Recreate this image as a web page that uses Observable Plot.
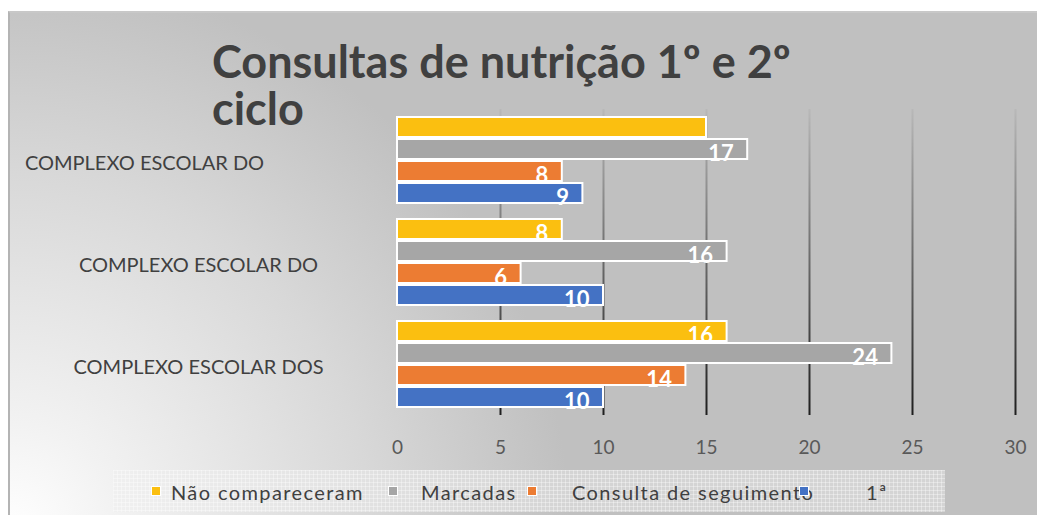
<!DOCTYPE html>
<html><head><meta charset="utf-8">
<script src="https://cdn.jsdelivr.net/npm/d3@7"></script>
<script src="https://cdn.jsdelivr.net/npm/@observablehq/plot@0.6"></script>
<style>
body{margin:0;background:#fff;}
#wrap{position:relative;width:1037px;height:515px;overflow:hidden;font-family:Lato,sans-serif;}
#bg{position:absolute;left:8px;top:11px;width:1040px;height:520px;border-left:2px solid #b4b4b4;border-top:2px solid #c8c8c8;
  background:radial-gradient(circle at 0% 100%, #ffffff 0px, #f2f2f2 110px, #d8d8d8 360px, #c0c0c0 560px);}
.tl{position:absolute;left:212px;font-weight:700;font-size:45px;line-height:46px;height:46px;color:#404040;white-space:nowrap;}
.layer{position:absolute;left:0;top:0;}
#legend{position:absolute;left:113px;top:470px;width:832px;height:42px;
  background-color:rgba(238,238,238,0.45);
  background-image:linear-gradient(rgba(255,255,255,0.35) 1px, transparent 1px),linear-gradient(90deg, rgba(255,255,255,0.35) 1px, transparent 1px);
  background-size:4px 4px;}
.sw{position:absolute;top:16px;width:8px;height:8px;border:1px solid #fff;}
.lt{position:absolute;top:10px;font-size:20px;line-height:24px;color:#404040;white-space:nowrap;letter-spacing:1.4px;}
</style></head>
<body>
<div id="wrap">
  <div id="bg"></div>
  <div class="tl" style="top:38px">Consultas de nutrição 1º e 2º</div>
  <div class="tl" style="top:85px">ciclo</div>
  <div id="grid" class="layer"></div>
  <div id="bars" class="layer"></div>
  <div id="legend"></div>
</div>
<script>
// ---- data ----
const categories = ["COMPLEXO ESCOLAR DO", "COMPLEXO ESCOLAR DO", "COMPLEXO ESCOLAR DOS"];
const series = ["Não compareceram", "Marcadas", "Consulta de seguimento", "1ª"];
const naoCompareceram = [15, 8, 16];
const marcadas = [17, 16, 24];
const consultaSeguimento = [8, 6, 14];
const primeira = [9, 10, 10];
const naoCompareceramLabels = ["", "8", "16"];
const marcadasLabels = ["17", "16", "24"];
const consultaSeguimentoLabels = ["8", "6", "14"];
const primeiraLabels = ["9", "10", "10"];
const xTicks = [0, 5, 10, 15, 20, 25, 30];
const colors = ["#FBBF10", "#A6A6A6", "#EC7C33", "#4472C4"];

// ---- build table ----
const seriesValues = [naoCompareceram, marcadas, consultaSeguimento, primeira];
const seriesLabels = [naoCompareceramLabels, marcadasLabels, consultaSeguimentoLabels, primeiraLabels];
const groupIdx = categories.map((c, i) => i);
const rows = [];
series.forEach((s, si) => groupIdx.forEach(gi => rows.push({group: gi, series: s, value: seriesValues[si][gi], label: seriesLabels[si][gi]})));

const W = 1037, H = 465, mL = 397, mR = 22, mT = 109, mB = 50;
const common = {width: W, height: H, marginLeft: mL, marginRight: mR, marginTop: mT, marginBottom: mB};

// grid + axis layer
const gridSvg = Plot.plot({
  ...common,
  style: {background: "transparent", fontFamily: "Lato", fontSize: "19px", color: "#595959"},
  x: {domain: [0, 30], ticks: xTicks, tickSize: 0, tickPadding: 25, label: null},
  y: {axis: null},
  marks: [
    Plot.ruleX(xTicks.filter(d => d > 0), {stroke: "url(#gridgrad)", strokeWidth: 2})
  ]
});
const defs = d3.select(gridSvg).insert("defs", ":first-child");
const lg = defs.append("linearGradient").attr("id", "gridgrad").attr("gradientUnits", "userSpaceOnUse")
  .attr("x1", 0).attr("x2", 0).attr("y1", mT).attr("y2", H - mB);
lg.append("stop").attr("offset", 0).attr("stop-color", "#b8b8b8");
lg.append("stop").attr("offset", 0.5).attr("stop-color", "#6a6a6a");
lg.append("stop").attr("offset", 1).attr("stop-color", "#1e1e1e");
document.getElementById("grid").appendChild(gridSvg);

// bars layer
const barSvg = Plot.plot({
  ...common,
  style: {background: "transparent", fontFamily: "Lato", overflow: "visible"},
  fy: {domain: groupIdx, padding: 0, axis: null},
  y: {domain: series, paddingInner: 0.07, paddingOuter: 0.353, axis: null},
  x: {domain: [0, 30], axis: null},
  color: {domain: series, range: colors},
  marks: [
    Plot.barX(rows, {x: "value", y: "series", fy: "group", fill: "series", stroke: "white", strokeWidth: 2}),
    Plot.text(rows, {x: "value", y: "series", fy: "group", text: "label", fill: "white", fontWeight: "bold", fontSize: 22, textAnchor: "end", dx: -14, dy: 4}),
    Plot.text(groupIdx.filter(i => i === 0), {fy: d => d, text: d => categories[d], frameAnchor: "left", textAnchor: "middle", dx: -253, dy: 3, fontSize: 20, fill: "#404040"}),
    Plot.text(groupIdx.filter(i => i > 0), {fy: d => d, text: d => categories[d], frameAnchor: "left", textAnchor: "middle", dx: -199, dy: 3, fontSize: 20, fill: "#404040"})
  ]
});
document.getElementById("bars").appendChild(barSvg);

// legend
const legend = document.getElementById("legend");
const swLeft = [38, 275, 414, 686];
const txtLeft = [58, 308, 459, 753];
series.forEach((s, i) => {
  const sw = document.createElement("div");
  sw.className = "sw"; sw.style.left = swLeft[i] + "px"; sw.style.background = colors[i];
  legend.appendChild(sw);
  const t = document.createElement("div");
  t.className = "lt"; t.style.left = txtLeft[i] + "px"; t.textContent = s;
  legend.appendChild(t);
});
</script>
</body></html>
